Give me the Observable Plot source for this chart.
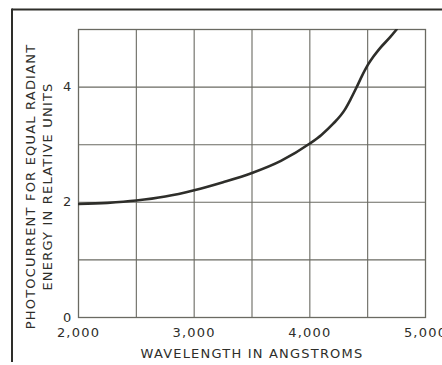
<!DOCTYPE html>
<html>
<head>
<meta charset="utf-8">
<script src="https://cdn.jsdelivr.net/npm/d3@7"></script>
<script src="https://cdn.jsdelivr.net/npm/@observablehq/plot@0.6"></script>
<style>
  html, body { margin: 0; padding: 0; background: #fff; }
  #chart svg { display: block; }
</style>
</head>
<body>
<div id="chart"></div>
<script>
// Wavelength (angstroms) and relative photocurrent
const wavelength = [2000, 2250, 2500, 2750, 3000, 3250, 3500, 3750, 4000, 4100, 4200, 4300, 4350, 4400, 4450, 4500, 4550, 4600, 4700, 4750];
const photocurrent = [1.97, 1.99, 2.03, 2.10, 2.21, 2.35, 2.51, 2.72, 3.02, 3.17, 3.36, 3.60, 3.78, 3.98, 4.19, 4.38, 4.53, 4.66, 4.88, 5.0];

const xTicks = [2000, 3000, 4000, 5000];
const xGrid = [2500, 3000, 3500, 4000, 4500];
const yTicks = [0, 2, 4];
const yGrid = [1, 2, 3, 4];
const xTitle = "WAVELENGTH IN ANGSTROMS";
const yTitle = "PHOTOCURRENT FOR EQUAL RADIANT\nENERGY IN RELATIVE UNITS";

const data = wavelength.map((w, i) => ({w, p: photocurrent[i]}));
const ink = "#2e2e2a";
const gridInk = "#6a6a62";

const chart = Plot.plot({
  width: 442,
  height: 365,
  marginLeft: 78,
  marginRight: 17,
  marginTop: 29,
  marginBottom: 48,
  style: {fontFamily: "DejaVu Sans", fontSize: "13px", color: ink, background: "#fff", letterSpacing: "1.2px"},
  x: {domain: [2000, 5000]},
  y: {domain: [0, 5]},
  marks: [
    Plot.gridX(xGrid, {stroke: gridInk, strokeOpacity: 1, strokeWidth: 1.1}),
    Plot.gridY(yGrid, {stroke: gridInk, strokeOpacity: 1, strokeWidth: 1.1}),
    Plot.frame({stroke: gridInk, strokeWidth: 1.3}),
    Plot.axisX(xTicks, {tickSize: 0, tickPadding: 10, tickFormat: d3.format(","), label: null, fontSize: 13, fill: ink}),
    Plot.axisY(yTicks, {tickSize: 0, tickPadding: 6, tickFormat: d3.format("d"), label: null, fontSize: 13, fill: ink}),
    Plot.line(data, {x: "w", y: "p", curve: "monotone-x", stroke: ink, strokeWidth: 2.6, clip: true}),
    Plot.text([xTitle], {frameAnchor: "bottom", textAnchor: "middle", lineAnchor: "middle", dy: 36, fontSize: 13, fill: ink, style: {letterSpacing: "1.3px"}}),
    Plot.text([yTitle], {frameAnchor: "left", textAnchor: "middle", lineAnchor: "middle", rotate: -90, dx: -40, dy: 13, lineHeight: 1.3, fontSize: 13, fill: ink})
  ]
});

// decorative outer border lines (page frame of the original figure)
const svg = d3.select(chart);
svg.append("line").attr("x1", 12).attr("x2", 442).attr("y1", 9.5).attr("y2", 9.5)
  .attr("stroke", ink).attr("stroke-width", 2);
svg.append("line").attr("x1", 12).attr("x2", 12).attr("y1", 8.5).attr("y2", 362)
  .attr("stroke", ink).attr("stroke-width", 2);

document.getElementById("chart").appendChild(chart);
</script>
</body>
</html>
